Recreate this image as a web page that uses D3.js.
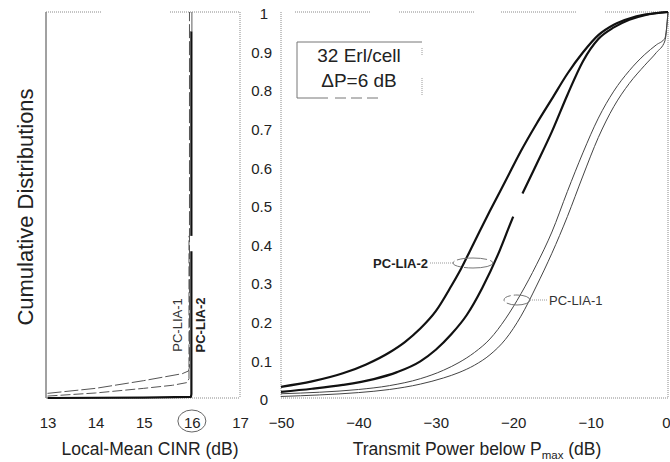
<!DOCTYPE html>
<html>
<head>
<meta charset="utf-8">
<script src="https://cdn.jsdelivr.net/npm/d3@7"></script>
<style>
  html, body { margin: 0; padding: 0; background: #fff; }
  svg { display: block; font-family: "Liberation Sans", Arial, Helvetica, sans-serif; }
</style>
</head>
<body>
<svg id="chart" width="670" height="462"></svg>
<script>
// ---------- data ----------
// Left panel: local-mean CINR (dB) vs cumulative distribution
const cinrTicks = [13, 14, 15, 16, 17];
const cinrLia1aX = [13.0, 14.0, 15.0, 15.8, 15.93, 15.95, 15.95];
const cinrLia1aY = [0.012, 0.025, 0.045, 0.063, 0.07, 0.08, 1.0];
const cinrLia1bX = [13.0, 14.0, 15.0, 15.6, 15.9, 15.94, 15.94];
const cinrLia1bY = [0.005, 0.013, 0.025, 0.033, 0.04, 0.05, 0.42];
const cinrLia2LowX = [13.0, 15.0, 15.98, 15.99, 15.99];
const cinrLia2LowY = [0.0, 0.001, 0.003, 0.01, 0.38];
const cinrLia2HighX = [15.99, 15.99];
const cinrLia2HighY = [0.42, 0.95];
const cinrLia2TopX = [16.0, 16.0];
const cinrLia2TopY = [0.95, 1.0];

// Right panel: transmit power below Pmax (dB) vs cumulative distribution
const powerTicks = [-50, -40, -30, -20, -10, 0];
const cdfTicks = [0, 0.1, 0.2, 0.3, 0.4, 0.5, 0.6, 0.7, 0.8, 0.9, 1];
const tickLabels = ["0", "0.1", "0.2", "0.3", "0.4", "0.5", "0.6", "0.7", "0.8", "0.9", "1"];

// PC-LIA-2 (bold) curves
const lia2aX = [-50, -46, -42, -39, -36, -34, -32, -30, -28, -27, -25, -23, -21, -19, -17, -15, -13, -11, -9, -7, -5, -3, 0];
const lia2aY = [0.029, 0.043, 0.064, 0.087, 0.118, 0.145, 0.18, 0.225, 0.29, 0.325, 0.405, 0.485, 0.562, 0.64, 0.71, 0.775, 0.84, 0.895, 0.94, 0.967, 0.983, 0.993, 1.0];
const lia2bLowX = [-50, -46, -42, -38, -35, -32, -30, -28, -26, -24, -22, -20.6, -20.0];
const lia2bLowY = [0.016, 0.024, 0.034, 0.049, 0.067, 0.095, 0.125, 0.165, 0.215, 0.285, 0.37, 0.44, 0.47];
const lia2bHighX = [-18.8, -17, -15, -13, -11, -9, -7, -5, -3, 0];
const lia2bHighY = [0.53, 0.605, 0.69, 0.785, 0.872, 0.93, 0.96, 0.98, 0.992, 1.0];

// PC-LIA-1 (thin) curves
const lia1aX = [-50, -45, -40, -36, -32, -29, -27, -25, -23, -21, -19, -17, -15, -13, -11, -9, -7, -5, -3, -1.5, -0.4, 0];
const lia1aY = [0.011, 0.015, 0.022, 0.032, 0.05, 0.072, 0.092, 0.118, 0.153, 0.205, 0.27, 0.345, 0.43, 0.535, 0.635, 0.725, 0.795, 0.848, 0.89, 0.915, 0.932, 1.0];
const lia1bX = [-50, -45, -40, -36, -32, -29, -27, -25, -23, -21, -19, -17, -15, -13, -11, -9, -7, -5, -3, -1.5, -0.4, 0];
const lia1bY = [0.004, 0.008, 0.014, 0.022, 0.036, 0.052, 0.066, 0.085, 0.112, 0.152, 0.212, 0.29, 0.375, 0.47, 0.575, 0.675, 0.755, 0.815, 0.862, 0.895, 0.925, 1.0];

// ---------- drawing ----------
const svg = d3.select("#chart");
const ink = "#222";
const dotted = "#8a8a8a";

const xL = d3.scaleLinear().domain([13, 17]).range([47.5, 240]);
const xR = d3.scaleLinear().domain([-50, 0]).range([281, 668]);
const y = d3.scaleLinear().domain([0, 1]).range([398, 12]);

function dline(x1, y1, x2, y2, dash, col, w) {
  svg.append("line").attr("x1", x1).attr("y1", y1).attr("x2", x2).attr("y2", y2)
    .attr("stroke", col || dotted).attr("stroke-width", w || 1)
    .attr("stroke-dasharray", dash || null);
}

// Left panel frame
dline(46, 12, 46, 398, null, "#444", 1);
dline(46, 12, 102, 12, "1,1");
dline(170, 12, 240, 12, "1,1");
dline(240, 12, 240, 398, "1,1");
dline(46, 398, 240, 398, "1,1");

// Right panel frame
dline(281, 12, 281, 398, "1,1");
dline(668, 12, 668, 398, "1,1");
dline(281, 398, 668, 398, "1,1");
[[295, 370], [399, 475], [501, 577], [605, 668]].forEach(s => dline(s[0], 12, s[1], 12, "1,1"));

// Curves
function drawCurve(xs, ys, xScale, w, col, dash, curve) {
  const pts = xs.map((v, i) => [v, ys[i]]);
  const gen = d3.line().x(d => xScale(d[0])).y(d => y(d[1])).curve(curve || d3.curveLinear);
  svg.append("path").datum(pts).attr("d", gen)
    .attr("fill", "none").attr("stroke", col).attr("stroke-width", w)
    .attr("stroke-dasharray", dash || null).attr("stroke-linejoin", "round");
}

// Left panel curves
drawCurve(cinrLia1aX, cinrLia1aY, xL, 1, "#555", "14,3");
drawCurve(cinrLia1bX, cinrLia1bY, xL, 1, "#555", "10,3");
drawCurve(cinrLia2LowX, cinrLia2LowY, xL, 2.2, "#111");
drawCurve(cinrLia2HighX, cinrLia2HighY, xL, 2.2, "#111");
drawCurve(cinrLia2TopX, cinrLia2TopY, xL, 1.2, "#777");

// Right panel curves
const smooth = d3.curveMonotoneX;
drawCurve(lia1aX, lia1aY, xR, 1, "#444", null, smooth);
drawCurve(lia1bX, lia1bY, xR, 1, "#444", null, smooth);
drawCurve(lia2aX, lia2aY, xR, 2.2, "#111", null, smooth);
drawCurve(lia2bLowX, lia2bLowY, xR, 2.2, "#111", null, smooth);
drawCurve(lia2bHighX, lia2bHighY, xR, 2.2, "#111", null, smooth);

// Axes
const axL = svg.append("g").attr("transform", "translate(0,398)")
  .call(d3.axisBottom(xL).tickValues(cinrTicks).tickSize(0).tickPadding(19).tickFormat(d3.format("d")));
const axR = svg.append("g").attr("transform", "translate(0,398)")
  .call(d3.axisBottom(xR).tickValues(powerTicks).tickSize(0).tickPadding(19).tickFormat(d3.format("d")));
const axY = svg.append("g").attr("transform", "translate(272,0)")
  .call(d3.axisLeft(y).tickValues(cdfTicks).tickSize(0).tickPadding(0).tickFormat((d, i) => tickLabels[i]));
[axL, axR, axY].forEach(g => {
  g.select(".domain").remove();
  g.selectAll("text").attr("font-size", 15).attr("fill", ink);
  g.attr("font-family", null);
});
axY.selectAll("text").attr("dy", "0.45em").attr("x", (d) => (d === 0 || d === 1) ? -4 : 0);
axR.selectAll(".tick").filter(d => d === 0).select("text")
  .attr("text-anchor", "end").attr("x", 2);

// Circle around 16
svg.append("ellipse").attr("cx", xL(16)).attr("cy", 421).attr("rx", 14).attr("ry", 11)
  .attr("fill", "none").attr("stroke", "#666").attr("stroke-width", 1);

// Axis titles
svg.append("text").attr("x", 150).attr("y", 455).attr("text-anchor", "middle")
  .attr("font-size", 17.5).attr("fill", ink).text("Local-Mean CINR (dB)");
const tt = svg.append("text").attr("x", 477).attr("y", 455).attr("text-anchor", "middle")
  .attr("font-size", 17.5).attr("fill", ink);
tt.append("tspan").text("Transmit Power below P");
tt.append("tspan").attr("font-size", 11.5).attr("dy", 4).text("max");
tt.append("tspan").attr("dy", -4).text(" (dB)");
svg.append("text").attr("transform", "translate(33,207) rotate(-90)").attr("text-anchor", "middle")
  .attr("font-size", 22).attr("fill", ink).text("Cumulative Distributions");

// Info box
dline(297, 42, 297, 98, null, "#777", 1);
dline(297, 42, 422, 42, null, "#777", 1);
dline(297, 98, 328, 98, null, "#777", 1);
dline(335, 98, 380, 98, "11,5", "#777", 1);
dline(422, 48, 422, 56, "1,1", "#999", 1);
dline(422, 78, 422, 96, "1,1", "#999", 1);
svg.append("text").attr("x", 359).attr("y", 62).attr("text-anchor", "middle")
  .attr("font-size", 19).attr("fill", ink).text("32 Erl/cell");
svg.append("text").attr("x", 359).attr("y", 87).attr("text-anchor", "middle")
  .attr("font-size", 19).attr("fill", ink).text("ΔP=6 dB");

// Annotations (right panel)
svg.append("ellipse").attr("cx", 473).attr("cy", 263).attr("rx", 20).attr("ry", 5)
  .attr("fill", "none").attr("stroke", "#777").attr("stroke-width", 1).attr("stroke-dasharray", "30,3,12,3");
dline(430, 263, 453, 263, "1,1", "#999", 1);
svg.append("text").attr("x", 428).attr("y", 268).attr("text-anchor", "end")
  .attr("font-size", 13).attr("font-weight", "bold").attr("fill", ink).text("PC-LIA-2");
svg.append("ellipse").attr("cx", 517).attr("cy", 300).attr("rx", 13).attr("ry", 5)
  .attr("fill", "none").attr("stroke", "#777").attr("stroke-width", 1).attr("stroke-dasharray", "25,3,10,3");
dline(530, 300, 548, 300, "1,1", "#999", 1);
svg.append("text").attr("x", 549).attr("y", 305).attr("font-size", 13)
  .attr("fill", "#333").text("PC-LIA-1");

// Annotations (left panel)
svg.append("text").attr("transform", "translate(182,325) rotate(-90)").attr("text-anchor", "middle")
  .attr("font-size", 13).attr("fill", "#333").text("PC-LIA-1");
svg.append("text").attr("transform", "translate(205,325) rotate(-90)").attr("text-anchor", "middle")
  .attr("font-size", 13).attr("font-weight", "bold").attr("fill", ink).text("PC-LIA-2");
</script>
</body>
</html>
